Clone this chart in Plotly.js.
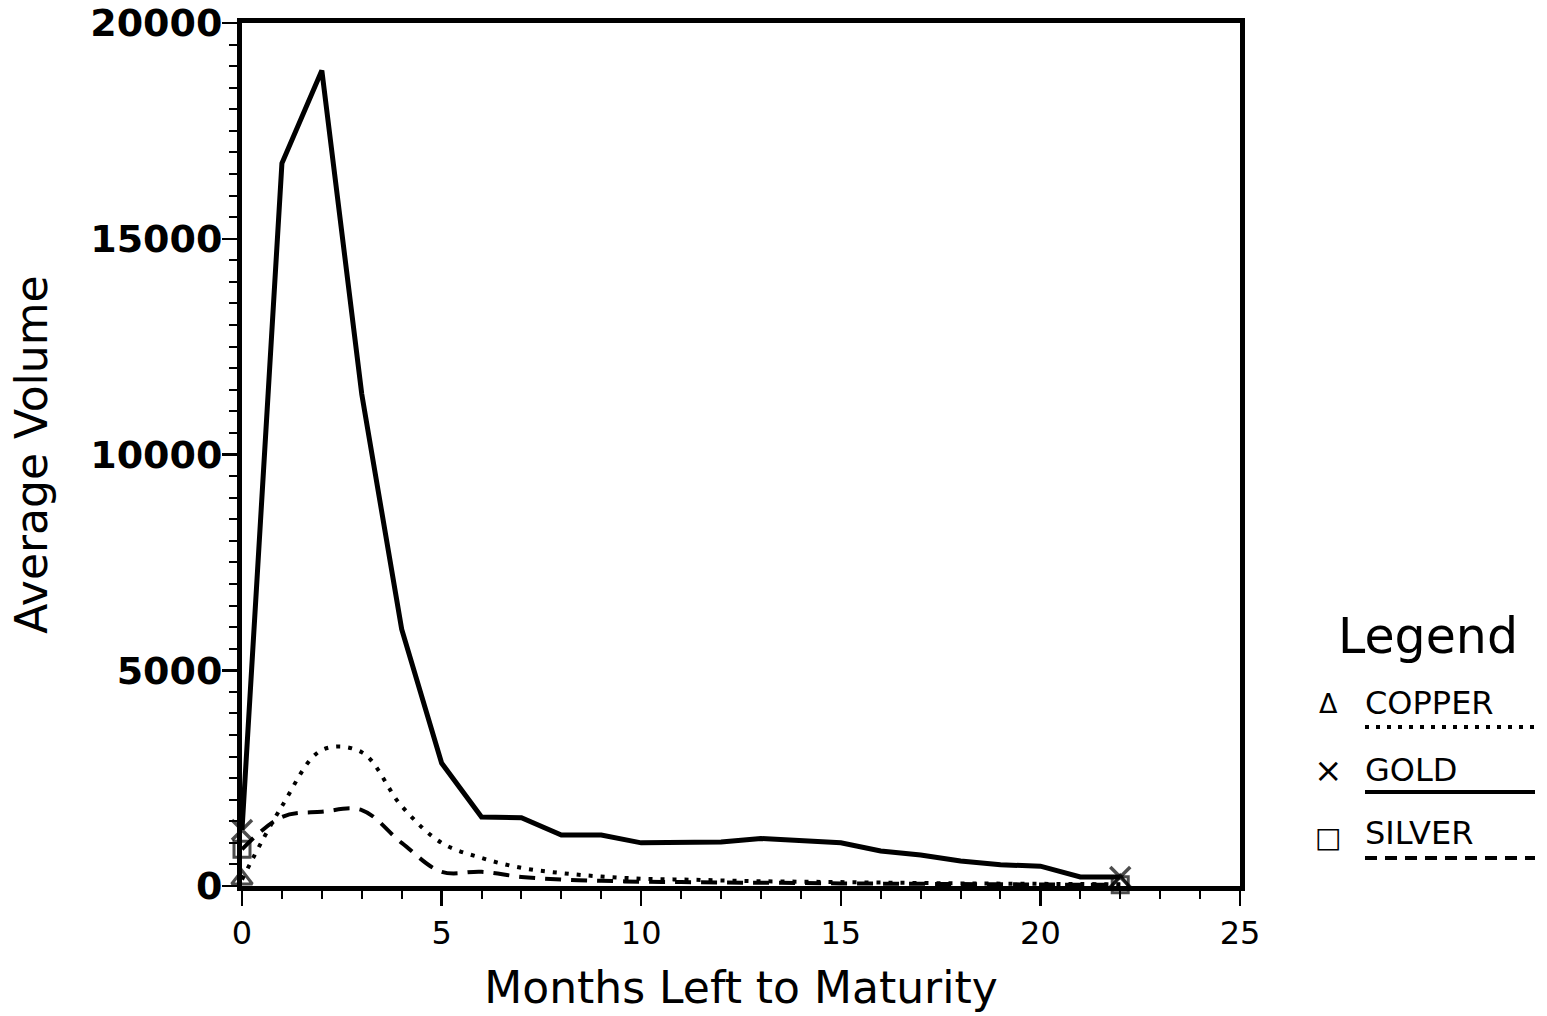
<!DOCTYPE html>
<html>
<head>
<meta charset="utf-8">
<script src="https://cdn.plot.ly/plotly-3.0.1.min.js"></script>
<style>html,body{margin:0;padding:0;background:#fff;}#chart{width:1547px;height:1016px;}</style>
</head>
<body>
<div id="chart"></div>
<script>
// ---- data ----
const months = [0,1,2,3,4,5,6,7,8,9,10,11,12,13,14,15,16,17,18,19,20,21,22];
const copper = [150,1850,3150,3100,1850,1000,650,420,300,220,170,150,130,110,100,90,80,70,60,55,50,45,40];
const gold   = [1300,16750,18900,11400,5950,2850,1600,1580,1180,1180,1000,1000,1020,1100,1040,1000,810,720,580,490,460,210,210];
const silver = [850,1600,1720,1760,1000,330,330,210,150,120,100,90,80,75,70,60,55,50,45,40,35,30,30];
const seriesNames = ['COPPER','GOLD','SILVER'];
const xTickVals = [0,5,10,15,20,25];
const yTickVals = [0,5000,10000,15000,20000];

function endMarkers(arr, s){ return arr.map((v,i)=> (i===0||i===arr.length-1)? s : 0); }

const traces = [
  {x: months, y: copper, name: seriesNames[0], mode:'lines+markers',
   line:{color:'#000', width:4, dash:'4px,8px', shape:'spline', smoothing:1},
   marker:{symbol:'triangle-up-open', size:endMarkers(copper,18), color:'#000', line:{width:3,color:'#000'}},
   cliponaxis:false},
  {x: months, y: gold, name: seriesNames[1], mode:'lines+markers',
   line:{color:'#000', width:5},
   marker:{symbol:'x-thin-open', size:endMarkers(gold,20), color:'#000', line:{width:3.5,color:'#000'}},
   cliponaxis:false},
  {x: months, y: silver, name: seriesNames[2], mode:'lines+markers',
   line:{color:'#000', width:4, dash:'16px,10px', shape:'spline', smoothing:1},
   marker:{symbol:'square-open', size:endMarkers(silver,16), color:'#000', line:{width:3,color:'#000'}},
   cliponaxis:false}
];

const L = 242, R = 1240, T = 23, B = 886;
const px = v => (v - L) / (R - L);
const py = v => (B - v) / (B - T);
const fam = 'DejaVu Sans, sans-serif';

const annotations = [
  {text:'Legend', x:px(1428), y:py(636), xref:'paper', yref:'paper', showarrow:false, xanchor:'center', yanchor:'middle', font:{family:fam, size:49, color:'#000'}},
  {text:'Δ', x:px(1328), y:py(703), xref:'paper', yref:'paper', showarrow:false, xanchor:'center', yanchor:'middle', font:{family:fam, size:27, color:'#000'}},
  {text:seriesNames[0], x:px(1363), y:py(703), xref:'paper', yref:'paper', showarrow:false, xanchor:'left', yanchor:'middle', font:{family:fam, size:32, color:'#000'}},
  {text:'×', x:px(1328), y:py(770), xref:'paper', yref:'paper', showarrow:false, xanchor:'center', yanchor:'middle', font:{family:fam, size:34, color:'#000'}},
  {text:seriesNames[1], x:px(1363), y:py(770), xref:'paper', yref:'paper', showarrow:false, xanchor:'left', yanchor:'middle', font:{family:fam, size:32, color:'#000'}},
  {text:'□', x:px(1328), y:py(837), xref:'paper', yref:'paper', showarrow:false, xanchor:'center', yanchor:'middle', font:{family:fam, size:28, color:'#000'}},
  {text:seriesNames[2], x:px(1363), y:py(833), xref:'paper', yref:'paper', showarrow:false, xanchor:'left', yanchor:'middle', font:{family:fam, size:32, color:'#000'}}
];
const shapes = [
  {type:'line', xref:'paper', yref:'paper', x0:px(1365), x1:px(1535), y0:py(727), y1:py(727), line:{color:'#000', width:4, dash:'4px,7px'}},
  {type:'line', xref:'paper', yref:'paper', x0:px(1365), x1:px(1535), y0:py(792), y1:py(792), line:{color:'#000', width:4}},
  {type:'line', xref:'paper', yref:'paper', x0:px(1365), x1:px(1535), y0:py(858), y1:py(858), line:{color:'#000', width:4, dash:'12px,8px'}}
];

const layout = {
  width:1547, height:1016,
  margin:{l:L, r:1547-R, t:T, b:1016-B, pad:0},
  paper_bgcolor:'#fff', plot_bgcolor:'#fff',
  showlegend:false,
  xaxis:{range:[0,25], tickvals:xTickVals, ticktext:xTickVals.map(String),
    showgrid:false, zeroline:false, showline:true, mirror:true, linecolor:'#000', linewidth:5,
    ticks:'outside', ticklen:15, tickwidth:2.5, tickcolor:'#000',
    minor:{dtick:1, ticks:'outside', ticklen:8, tickwidth:2, tickcolor:'#000', showgrid:false},
    tickfont:{family:fam, size:32, color:'#000'},
    title:{text:'Months Left to Maturity', font:{family:fam, size:44, color:'#000'}, standoff:22}},
  yaxis:{range:[0,20000], tickvals:yTickVals, ticktext:yTickVals.map(String),
    showgrid:false, zeroline:false, showline:true, mirror:true, linecolor:'#000', linewidth:5,
    ticks:'outside', ticklen:15, tickwidth:2.5, tickcolor:'#000', ticklabelstandoff:-8,
    minor:{dtick:500, ticks:'outside', ticklen:8, tickwidth:2, tickcolor:'#000', showgrid:false},
    tickfont:{family:fam, size:38, color:'#000', weight:'bold'},
    title:{text:'Average Volume', font:{family:fam, size:44, color:'#000'}, standoff:30}},
  annotations: annotations,
  shapes: shapes
};

Plotly.newPlot('chart', traces, layout, {staticPlot:true});
</script>
</body>
</html>
